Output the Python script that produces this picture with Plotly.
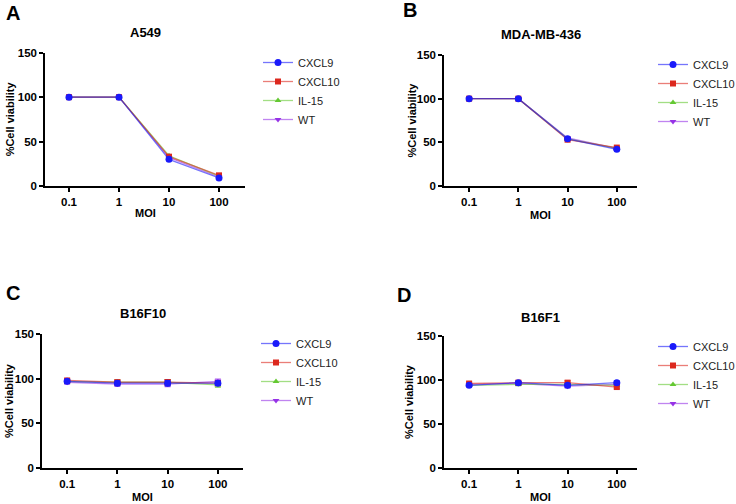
import plotly.graph_objects as go

W, H = 736, 504

moi_labels = ["0.1", "1", "10", "100"]
series_names = ["CXCL9", "CXCL10", "IL-15", "WT"]

# A549
a549_cxcl9 = [100, 100, 30, 9]
a549_cxcl10 = [100, 100, 33, 12]
a549_il15 = [100, 100, 34, 11]
a549_wt = [100, 100, 32, 10]
a549_err = [0.5, 0.5, 1.0, 1.0]

# MDA-MB-436
mda_cxcl9 = [100, 100, 54, 42]
mda_cxcl10 = [100, 100, 53, 44]
mda_il15 = [100, 100, 54, 43]
mda_wt = [100, 100, 55, 43]
mda_err = [0.5, 0.5, 1.0, 1.0]

# B16F10
b16f10_cxcl9 = [97, 95, 95, 95]
b16f10_cxcl10 = [98, 96, 96, 95]
b16f10_il15 = [97, 96, 96, 93]
b16f10_wt = [96, 94, 94, 97]
b16f10_err = [2, 2.5, 3, 2.5]

# B16F1
b16f1_cxcl9 = [94, 97, 94, 97]
b16f1_cxcl10 = [96, 97, 97, 92]
b16f1_il15 = [94, 95, 95, 94]
b16f1_wt = [95, 96, 93, 95]
b16f1_err = [1.5, 1.5, 2, 2]

panels = [
    dict(letter="A", title="A549", data=[a549_cxcl9, a549_cxcl10, a549_il15, a549_wt], err=a549_err,
         px=(45, 245), py=(52.7, 186), xr=[-0.48, 3.52], title_y=32, letter_xy=(4, 13),
         legend_xy=(258, 48), ytitle_x=10, moi_y=213),
    dict(letter="B", title="MDA-MB-436", data=[mda_cxcl9, mda_cxcl10, mda_il15, mda_wt], err=mda_err,
         px=(444, 637), py=(55, 186), xr=[-0.51, 3.41], title_y=35, letter_xy=(401, 10),
         legend_xy=(653, 50), ytitle_x=411, moi_y=215),
    dict(letter="C", title="B16F10", data=[b16f10_cxcl9, b16f10_cxcl10, b16f10_il15, b16f10_wt], err=b16f10_err,
         px=(42, 243), py=(334, 468), xr=[-0.5, 3.5], title_y=313, letter_xy=(4, 293),
         legend_xy=(256, 329), ytitle_x=9, moi_y=497),
    dict(letter="D", title="B16F1", data=[b16f1_cxcl9, b16f1_cxcl10, b16f1_il15, b16f1_wt], err=b16f1_err,
         px=(444, 637), py=(336, 468), xr=[-0.51, 3.41], title_y=317, letter_xy=(395, 295),
         legend_xy=(653, 332), ytitle_x=409, moi_y=497),
]

colors = ["rgb(25,25,250)", "rgb(220,40,30)", "rgb(100,200,50)", "rgb(150,50,230)"]
line_colors = ["rgba(25,25,250,0.6)", "rgba(220,40,30,0.6)", "rgba(100,200,50,0.6)", "rgba(150,50,230,0.6)"]
symbols = ["circle", "square", "triangle-up", "triangle-down"]
sizes = [7, 6, 6, 6]

FONT = "Liberation Sans, Arial, sans-serif"
fig = go.Figure()
layout = dict(width=W, height=H, margin=dict(l=0, r=0, t=0, b=0, autoexpand=False),
              paper_bgcolor="white", plot_bgcolor="white", showlegend=True,
              font=dict(family=FONT, color="black"))
annotations = []
xpos = list(range(len(moi_labels)))

for i, p in enumerate(panels):
    k = "" if i == 0 else str(i + 1)
    xa, ya = "x" + k, "y" + k
    lg = "legend" + k
    # draw WT first so CXCL9 ends on top
    for j in [3, 2, 1, 0]:
        fig.add_trace(go.Scatter(
            x=xpos, y=p["data"][j], name=series_names[j], mode="lines+markers",
            xaxis=xa, yaxis=ya, legend=lg,
            line=dict(color=line_colors[j], width=1.3),
            marker=dict(color=colors[j], symbol=symbols[j], size=sizes[j]),
            error_y=dict(type="data", array=p["err"], color=colors[j], thickness=1, width=3),
            cliponaxis=False,
        ))
    x0, x1 = p["px"]
    y0, y1 = p["py"]
    axis_common = dict(showline=True, linecolor="black", linewidth=1.5, ticks="outside",
                       ticklen=4, tickwidth=1.5, tickcolor="black", showgrid=False, zeroline=False,
                       automargin=False,
                       tickfont=dict(family=FONT, size=11.5, color="black", weight="bold"))
    layout["xaxis" + k] = dict(domain=[x0 / W, x1 / W], anchor=ya, range=p["xr"],
                                tickvals=xpos, ticktext=moi_labels, **axis_common)
    layout["yaxis" + k] = dict(domain=[1 - y1 / H, 1 - y0 / H], anchor=xa, range=[0, 150],
                                tickvals=[0, 50, 100, 150], **axis_common)
    layout[lg] = dict(x=p["legend_xy"][0] / W, y=1 - p["legend_xy"][1] / H, xanchor="left", yanchor="top",
                      traceorder="reversed", itemwidth=30, bgcolor="rgba(0,0,0,0)",
                      font=dict(family=FONT, size=11, color="#222"), tracegroupgap=0)
    cx = (x0 + x1) / 2
    annotations.append(dict(text="<b>%s</b>" % p["title"], x=cx / W, y=1 - p["title_y"] / H,
                            xref="paper", yref="paper", showarrow=False, xanchor="center", yanchor="middle",
                            font=dict(family=FONT, size=13, color="black")))
    annotations.append(dict(text="<b>%s</b>" % p["letter"], x=p["letter_xy"][0] / W, y=1 - p["letter_xy"][1] / H,
                            xref="paper", yref="paper", showarrow=False, xanchor="left", yanchor="middle",
                            font=dict(family=FONT, size=20, color="black")))
    annotations.append(dict(text="<b>MOI</b>", x=cx / W, y=1 - p["moi_y"] / H,
                            xref="paper", yref="paper", showarrow=False, xanchor="center", yanchor="middle",
                            font=dict(family=FONT, size=11, color="black")))
    annotations.append(dict(text="<b>%Cell viability</b>", x=p["ytitle_x"] / W, y=1 - ((y0 + y1) / 2) / H,
                            xref="paper", yref="paper", showarrow=False, xanchor="center", yanchor="middle",
                            textangle=-90, font=dict(family=FONT, size=11, color="black")))

layout["annotations"] = annotations
fig.update_layout(**layout)
fig.write_html("out.html", config={"displayModeBar": False},
               post_script="document.body.style.margin='0';document.body.style.overflow='hidden';")
